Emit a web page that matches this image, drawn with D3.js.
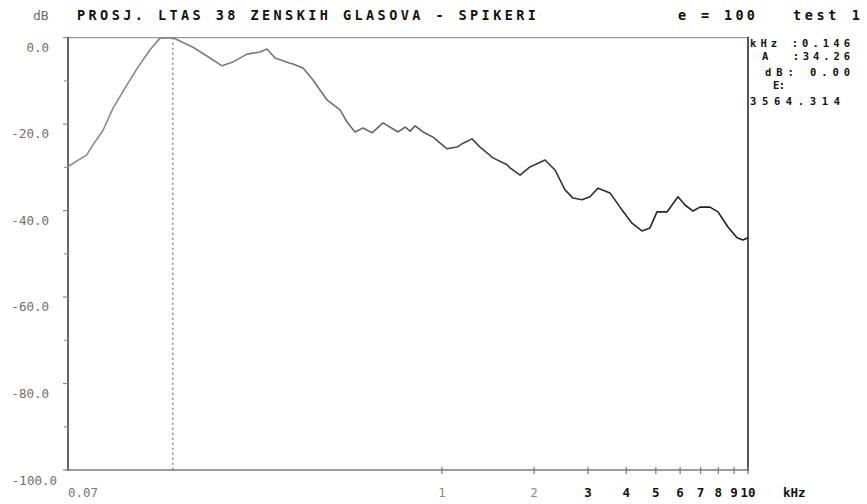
<!DOCTYPE html>
<html>
<head>
<meta charset="utf-8">
<script src="https://cdn.jsdelivr.net/npm/d3@7/dist/d3.min.js"></script>
<style>
  html, body { margin: 0; padding: 0; background: #fff; }
  svg { display: block; }
  text { font-family: "DejaVu Sans Mono", monospace; }
</style>
</head>
<body>
<svg id="chart" width="867" height="504"></svg>
<script>
// ---- data ----
const freqKHz = [0.060, 0.0691, 0.0724, 0.0781, 0.0842, 0.0935, 0.1016, 0.1112, 0.1199, 0.1322,
  0.1537, 0.1747, 0.1912, 0.2076, 0.2308, 0.2545, 0.2682, 0.2848, 0.3188, 0.3262, 0.3517,
  0.3791, 0.4212, 0.4645, 0.4896, 0.5199, 0.5522, 0.5909, 0.642, 0.719, 0.758, 0.787, 0.817,
  0.867, 0.935, 1.039, 1.120, 1.172, 1.254, 1.332, 1.468, 1.632, 1.669, 1.799, 1.939, 2.171,
  2.341, 2.524, 2.680, 2.868, 3.046, 3.235, 3.541, 3.818, 4.177, 4.504, 4.783, 5.042, 5.437,
  5.905, 6.225, 6.612, 6.968, 7.513, 7.98, 8.60, 9.21, 9.63, 10.0];
const levelDb = [-29.8, -27.1, -24.8, -21.4, -16.3, -10.9, -6.8, -2.8, -0.1, 0.0,
  -2.2, -4.7, -6.5, -5.6, -3.8, -3.3, -2.6, -4.7, -5.9, -6.1, -7.0,
  -9.8, -14.4, -16.7, -19.5, -21.8, -20.9, -22.0, -19.7, -21.8, -20.7, -21.6, -20.4,
  -21.8, -23.0, -25.7, -25.3, -24.4, -23.4, -25.3, -27.8, -29.4, -30.1, -31.8, -29.9, -28.3,
  -30.6, -35.2, -37.1, -37.5, -36.8, -34.8, -35.9, -39.2, -42.9, -44.7, -44.0, -40.3, -40.3,
  -36.8, -38.7, -40.1, -39.2, -39.2, -40.3, -43.8, -46.3, -46.8, -46.3];
const cursorKHz = 0.132;

const yMajorTicks = [0, -20, -40, -60, -80, -100];
const yTickLabels = ["0.0", "-20.0", "-40.0", "-60.0", "-80.0", "-100.0"];
const yMinorTicks = [-10, -30, -50, -70, -90];
const xTicks = [1, 2, 3, 4, 5, 6, 7, 8, 9, 10];
const xTickLabels = ["1", "2", "3", "4", "5", "6", "7", "8", "9", "10"];
const xStartLabel = "0.07";
const title = "PROSJ. LTAS 38 ZENSKIH GLASOVA - SPIKERI";
const infoLines = ["kHz :0.146", "A  :34.26", "dB: 0.00", "E:", "3564.314"];

// ---- layout ----
const svg = d3.select("#chart");
const L = 68, R = 748, T = 37.7, B = 470;
const x = d3.scaleLog().domain([0.06, 10]).range([L, R]);
const y = d3.scaleLinear().domain([-100, 0]).range([B, T]);

// gradient for the curve (lighter at low frequencies, darker at high)
const defs = svg.append("defs");
const grad = defs.append("linearGradient").attr("id", "lg")
  .attr("gradientUnits", "userSpaceOnUse").attr("x1", L).attr("x2", R).attr("y1", 0).attr("y2", 0);
grad.append("stop").attr("offset", "0%").attr("stop-color", "#8d8d8d");
grad.append("stop").attr("offset", "45%").attr("stop-color", "#6a6a6a");
grad.append("stop").attr("offset", "65%").attr("stop-color", "#3a3a3a");
grad.append("stop").attr("offset", "100%").attr("stop-color", "#1c1c1c");

// frame
svg.append("line").attr("x1", L).attr("x2", R).attr("y1", T).attr("y2", T)
  .attr("stroke", "#9a9a9a").attr("stroke-width", 1.3);
svg.append("line").attr("x1", L).attr("x2", R + 1).attr("y1", B).attr("y2", B)
  .attr("stroke", "#7a7a7a").attr("stroke-width", 1.6);
svg.append("line").attr("x1", L).attr("x2", L).attr("y1", T - 1).attr("y2", B + 1)
  .attr("stroke", "#666").attr("stroke-width", 2);
svg.append("line").attr("x1", R).attr("x2", R).attr("y1", T - 1).attr("y2", B + 1)
  .attr("stroke", "#555").attr("stroke-width", 2);

// y ticks
svg.selectAll(".ymaj").data(yMajorTicks).join("line")
  .attr("x1", L - 5).attr("x2", L).attr("y1", d => y(d)).attr("y2", d => y(d))
  .attr("stroke", "#888").attr("stroke-width", 1.2);
svg.selectAll(".ymin").data(yMinorTicks).join("line")
  .attr("x1", L - 4).attr("x2", L).attr("y1", d => y(d)).attr("y2", d => y(d))
  .attr("stroke", "#999").attr("stroke-width", 1.2);
svg.selectAll(".ylab").data(yMajorTicks).join("text")
  .attr("x", (d, i) => d === -100 ? 57 : 49)
  .attr("y", d => y(d) + (d === -100 ? 15 : 14))
  .attr("text-anchor", "end")
  .attr("font-size", 12.5)
  .attr("fill", "#6e6e6e")
  .text((d, i) => yTickLabels[i]);

// x ticks
svg.selectAll(".xt").data(xTicks).join("line")
  .attr("x1", d => x(d)).attr("x2", d => x(d)).attr("y1", B - 3).attr("y2", B + 4)
  .attr("stroke", "#777").attr("stroke-width", 1.2);
svg.selectAll(".xl").data(xTicks).join("text")
  .attr("x", d => x(d)).attr("y", 497)
  .attr("text-anchor", "middle")
  .attr("font-size", 12.5)
  .attr("font-weight", d => d >= 3 ? "bold" : "normal")
  .attr("fill", d => d >= 3 ? "#111" : "#8a8a8a")
  .text((d, i) => xTickLabels[i]);
svg.append("text").attr("x", L).attr("y", 497).attr("font-size", 12.5)
  .attr("fill", "#777").text(xStartLabel);
svg.append("text").attr("x", 783).attr("y", 497).attr("font-size", 12.5)
  .attr("font-weight", "bold").attr("fill", "#111").text("kHz");

// cursor
svg.append("line").attr("x1", x(cursorKHz)).attr("x2", x(cursorKHz)).attr("y1", T).attr("y2", B)
  .attr("stroke", "#777").attr("stroke-width", 1.3).attr("stroke-dasharray", "2,3");

// curve
const line = d3.line().x((d, i) => x(freqKHz[i])).y(d => y(d));
svg.append("path").datum(levelDb)
  .attr("d", line)
  .attr("fill", "none")
  .attr("stroke", "url(#lg)")
  .attr("stroke-width", 1.6)
  .attr("stroke-linejoin", "round");

// title & headers
svg.append("text").attr("x", 33).attr("y", 20).attr("font-size", 13)
  .attr("fill", "#6e6e6e").text("dB");
svg.append("text").attr("x", 77).attr("y", 20).attr("font-size", 13.5)
  .attr("font-weight", "bold").attr("fill", "#111")
  .attr("textLength", 459).attr("lengthAdjust", "spacing").text(title);
svg.append("text").attr("x", 678).attr("y", 20).attr("font-size", 13.5)
  .attr("font-weight", "bold").attr("fill", "#111")
  .attr("textLength", 77).attr("lengthAdjust", "spacing").text("e = 100");
svg.append("text").attr("x", 793).attr("y", 20).attr("font-size", 13.5)
  .attr("font-weight", "bold").attr("fill", "#111")
  .attr("textLength", 67).attr("lengthAdjust", "spacing").text("test 1");

// readout block
const info = [
  {t: infoLines[0], x: 750, y: 47, w: 100},
  {t: infoLines[1], x: 762, y: 59.5, w: 88},
  {t: infoLines[2], x: 765, y: 76, w: 85},
  {t: infoLines[3], x: 773, y: 88.5, w: 12},
  {t: infoLines[4], x: 750, y: 105, w: 90}
];
svg.selectAll(".info").data(info).join("text")
  .attr("x", d => d.x).attr("y", d => d.y)
  .attr("font-size", 10.5).attr("font-weight", "bold").attr("fill", "#111")
  .attr("textLength", d => d.w).attr("lengthAdjust", "spacing")
  .attr("xml:space", "preserve")
  .style("white-space", "pre")
  .text(d => d.t);
</script>
</body>
</html>
